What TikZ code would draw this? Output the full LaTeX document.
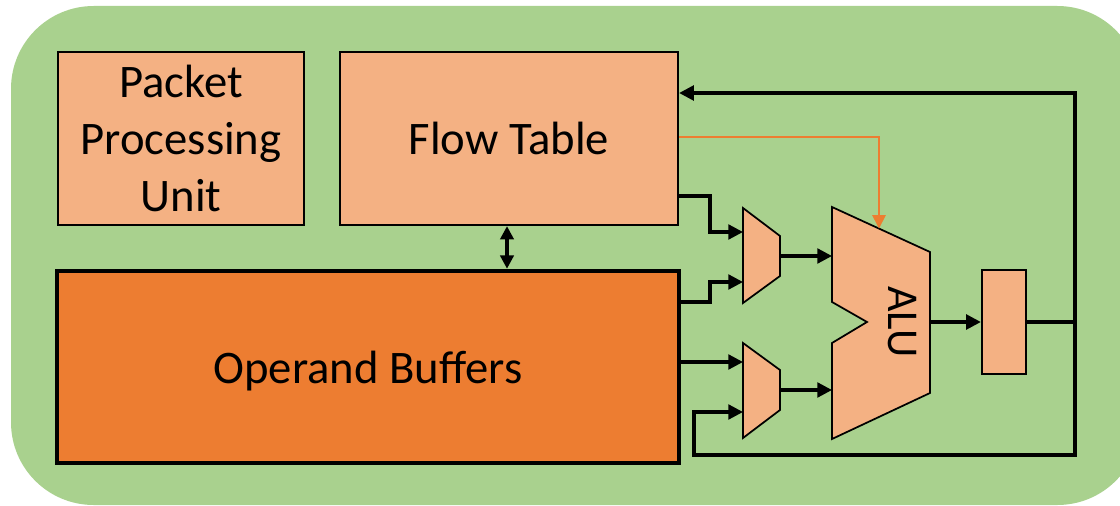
\documentclass[tikz,border=0pt]{standalone}
\usepackage{fontspec}
\setmainfont{Carlito}
\usepackage{xcolor}
\usetikzlibrary{arrows.meta}

\definecolor{bggreen}{RGB}{169,209,142}
\definecolor{unitorange}{RGB}{244,177,131}
\definecolor{bufforange}{RGB}{237,125,49}

\tikzset{
  unit/.style={draw=black, fill=unitorange, line width=1.7pt, align=center,
    font=\fontsize{35}{43}\selectfont, inner sep=0pt},
  wire/.style={draw=black, line width=2.4pt},
  tip/.style={-{Triangle[length=11pt,width=11pt]}},
}

\begin{document}
\begin{tikzpicture}[x=0.75pt,y=0.75pt,yscale=-1,xscale=1]
\useasboundingbox (0,0) rectangle (1120,506);

%Shape: Rounded Rectangle (board)
\fill [bggreen, rounded corners=62pt] (11,6) rectangle (1140,505);

% Blocks
\node [unit, minimum width=184.5pt, minimum height=129.75pt] (ppu) at (181,138.5) {Packet\\Processing\\Unit};
\node [unit, minimum width=253.5pt, minimum height=129.75pt] (ft) at (509,138.5) {Flow Table};
\node [unit, fill=bufforange, line width=3.4pt, minimum width=466.5pt, minimum height=144pt] (ob) at (368,367) {\raisebox{-3pt}[\height][\depth]{Operand Buffers}};
\node [unit, minimum width=33pt, minimum height=78pt] (reg) at (1004,322) {};

%Shape: Trapezoid (upper mux)
\draw [fill=unitorange, line width=1.3pt] (743,208) -- (780,236) -- (780,276) -- (743,303) -- cycle ;
\coordinate (m1a) at (743,232);
\coordinate (m1b) at (743,282);
\coordinate (m1o) at (780,256);
%Shape: Trapezoid (lower mux)
\draw [fill=unitorange, line width=1.3pt] (743,343) -- (780,370) -- (780,410) -- (743,438) -- cycle ;
\coordinate (m2a) at (743,362);
\coordinate (m2b) at (743,412);
\coordinate (m2o) at (780,390);
%Shape: ALU
\draw [fill=unitorange, line width=1.3pt] (832,207) -- (930,252) -- (930,393) -- (832,439) -- (832,343) -- (867,322) -- (832,302) -- cycle ;
\node [rotate=-90, font=\fontsize{33}{40}\selectfont, inner sep=0pt] (alu) at (902,322) {ALU};
\coordinate (alua) at (832,256);
\coordinate (alub) at (832,390);
\coordinate (aluo) at (930,322);
\coordinate (aluctl) at (879,228.5);

% Wires
\coordinate (junc) at (1075,322);
\coordinate (fbtop) at (1075,93);
\coordinate (fbbot) at (694,455);

\draw [wire, tip] (junc) -- (fbtop) -- (ft.east |- fbtop);
\draw [bufforange, line width=1.3pt, -{Triangle[length=10pt,width=10pt]}] (ft.east |- 0,137) -| (aluctl);
\draw [wire, tip] (ft.east |- 0,196) -- (710,196) -- (710,232) -- (m1a);
\draw [wire, tip] (ob.east |- 0,302) -- (710,302) -- (710,282) -- (m1b);
\draw [wire, tip] (ob.east |- m2a) -- (m2a);
\draw [wire, tip] (junc) |- (fbbot) |- (m2b);
\draw [wire, tip] (m1o) -- (alua);
\draw [wire, tip] (m2o) -- (alub);
\draw [wire, tip] (aluo) -- (reg.west);
\draw [wire] (reg.east) -- (junc);
\draw [wire, {Triangle[length=10pt,width=10pt]}-{Triangle[length=10pt,width=10pt]}] (ft.south -| 507,0) -- (ob.north -| 507,0);

\end{tikzpicture}
\end{document}
